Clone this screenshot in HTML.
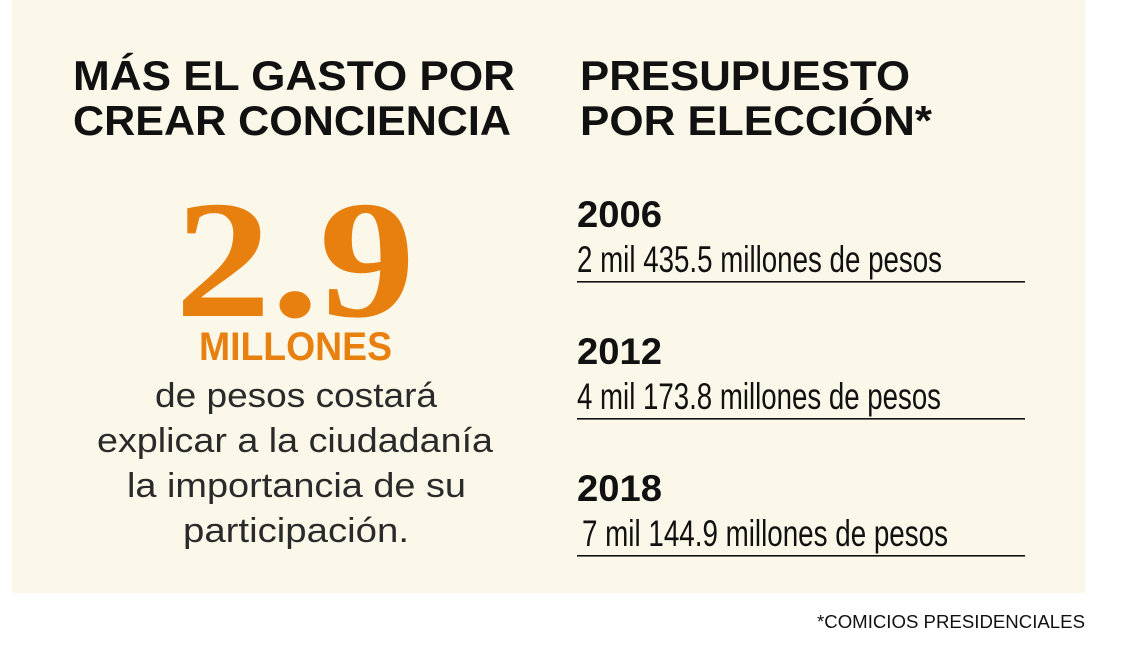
<!DOCTYPE html>
<html><head><meta charset="utf-8"><style>
html,body{margin:0;padding:0;background:#fff;}
svg{display:block;}
</style></head><body>
<svg width="1125" height="665" viewBox="0 0 1125 665" xmlns="http://www.w3.org/2000/svg">
<rect x="0" y="0" width="1125" height="665" fill="#ffffff"/>
<rect x="12" y="0" width="1073" height="593" fill="#fbf8e9"/>
<g font-family="Liberation Sans, sans-serif" font-weight="bold" fill="#111" font-size="42">
<text x="73" y="90" textLength="442" lengthAdjust="spacingAndGlyphs">MÁS EL GASTO POR</text>
<text x="73" y="135" textLength="438" lengthAdjust="spacingAndGlyphs">CREAR CONCIENCIA</text>
<text x="580" y="90" textLength="330" lengthAdjust="spacingAndGlyphs">PRESUPUESTO</text>
<text x="580" y="135" textLength="352" lengthAdjust="spacingAndGlyphs">POR ELECCIÓN*</text>
</g>
<text x="175" y="316" font-family="Liberation Serif, serif" font-weight="bold" font-size="168" fill="#e8800f" textLength="240" lengthAdjust="spacingAndGlyphs">2.9</text>
<text x="199" y="360" font-family="Liberation Sans, sans-serif" font-weight="bold" font-size="40" fill="#e8800f" textLength="193" lengthAdjust="spacingAndGlyphs">MILLONES</text>
<g font-family="Liberation Sans, sans-serif" font-size="34" fill="#2a2a2a">
<text x="155" y="407" textLength="282" lengthAdjust="spacingAndGlyphs">de pesos costará</text>
<text x="97" y="452" textLength="396" lengthAdjust="spacingAndGlyphs">explicar a la ciudadanía</text>
<text x="127" y="497" textLength="339" lengthAdjust="spacingAndGlyphs">la importancia de su</text>
<text x="183" y="542" textLength="226" lengthAdjust="spacingAndGlyphs">participación.</text>
</g>
<g font-family="Liberation Sans, sans-serif" fill="#111">
<text x="577" y="227" font-weight="bold" font-size="37" textLength="85" lengthAdjust="spacingAndGlyphs">2006</text>
<text x="577" y="272" font-size="37" textLength="365" lengthAdjust="spacingAndGlyphs">2 mil 435.5 millones de pesos</text>
<rect x="577" y="281" width="448" height="1.6"/>
<text x="577" y="364" font-weight="bold" font-size="37" textLength="85" lengthAdjust="spacingAndGlyphs">2012</text>
<text x="577" y="409" font-size="37" textLength="364" lengthAdjust="spacingAndGlyphs">4 mil 173.8 millones de pesos</text>
<rect x="577" y="418" width="448" height="1.6"/>
<text x="577" y="501" font-weight="bold" font-size="37" textLength="85" lengthAdjust="spacingAndGlyphs">2018</text>
<text x="582" y="546" font-size="37" textLength="366" lengthAdjust="spacingAndGlyphs">7 mil 144.9 millones de pesos</text>
<rect x="577" y="555" width="448" height="1.6"/>
<text x="1085" y="628" font-size="18" text-anchor="end" textLength="268" lengthAdjust="spacingAndGlyphs">*COMICIOS PRESIDENCIALES</text>
</g>
</svg>
</body></html>
